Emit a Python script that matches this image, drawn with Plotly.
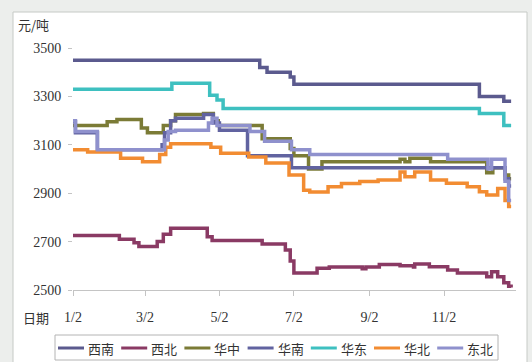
import plotly.graph_objects as go

# Regional price series (元/吨), stored as change points of a step line
dates_xinan = ["2019-01-02", "2019-06-04", "2019-06-10", "2019-06-29", "2019-07-02",
               "2019-12-01", "2019-12-21", "2019-12-27"]
vals_xinan = [3450, 3420, 3400, 3380, 3350, 3300, 3280, 3280]

dates_xibei = ["2019-01-02", "2019-02-09", "2019-02-21", "2019-02-25", "2019-03-12",
               "2019-03-17", "2019-03-23", "2019-04-22", "2019-04-26", "2019-06-06",
               "2019-06-25", "2019-06-29", "2019-07-02", "2019-07-21", "2019-07-31",
               "2019-08-27", "2019-08-30", "2019-09-10", "2019-09-27", "2019-10-08",
               "2019-10-09", "2019-10-21", "2019-11-05", "2019-11-13", "2019-12-07",
               "2019-12-11", "2019-12-16", "2019-12-21", "2019-12-25", "2019-12-27"]
vals_xibei = [2725, 2710, 2695, 2680, 2700, 2730, 2755, 2720, 2705, 2690,
              2665, 2620, 2570, 2590, 2595, 2588, 2595, 2605, 2600, 2595,
              2607, 2596, 2583, 2570, 2555, 2575, 2555, 2530, 2515, 2510]

dates_huazhong = ["2019-01-02", "2019-01-30", "2019-02-07", "2019-02-27", "2019-03-04",
                  "2019-03-17", "2019-03-23", "2019-03-27", "2019-04-19", "2019-04-27",
                  "2019-05-01", "2019-06-06", "2019-06-29", "2019-07-02", "2019-07-14",
                  "2019-07-25", "2019-09-27", "2019-10-01", "2019-10-05", "2019-10-22",
                  "2019-12-07", "2019-12-12", "2019-12-22", "2019-12-25", "2019-12-27"]
vals_huazhong = [3180, 3195, 3205, 3170, 3150, 3180, 3200, 3225, 3230, 3200,
                 3180, 3125, 3085, 3055, 3000, 3030, 3040, 3030, 3045, 3030,
                 2985, 3005, 2975, 2960, 2960]

dates_huanan = ["2019-01-02", "2019-01-04", "2019-01-22", "2019-03-16", "2019-03-18",
                "2019-03-23", "2019-03-27", "2019-04-19", "2019-04-27", "2019-05-02",
                "2019-05-25", "2019-06-30", "2019-12-22", "2019-12-25", "2019-12-27"]
vals_huanan = [3195, 3150, 3080, 3100, 3150, 3200, 3210, 3225, 3190, 3160,
               3055, 3005, 2960, 2930, 2930]

dates_huadong = ["2019-01-02", "2019-03-24", "2019-04-24", "2019-04-30", "2019-05-05",
                 "2019-12-01", "2019-12-21", "2019-12-27"]
vals_huadong = [3330, 3355, 3305, 3285, 3250, 3230, 3180, 3180]

dates_huabei = ["2019-01-02", "2019-01-14", "2019-02-10", "2019-02-28", "2019-03-14",
                "2019-03-19", "2019-03-23", "2019-04-25", "2019-05-03", "2019-05-26",
                "2019-06-09", "2019-06-28", "2019-07-10", "2019-07-15", "2019-07-30",
                "2019-08-10", "2019-08-25", "2019-09-09", "2019-09-27", "2019-10-01",
                "2019-10-09", "2019-10-22", "2019-11-04", "2019-11-21", "2019-12-01",
                "2019-12-07", "2019-12-16", "2019-12-22", "2019-12-25", "2019-12-27"]
vals_huabei = [3080, 3070, 3045, 3030, 3060, 3090, 3105, 3090, 3065, 3050,
               3025, 2975, 2912, 2905, 2927, 2940, 2948, 2955, 2988, 2968,
               2988, 2955, 2941, 2927, 2906, 2893, 2920, 2870, 2845, 2845]

dates_dongbei = ["2019-01-02", "2019-01-04", "2019-01-22", "2019-03-18", "2019-03-21",
                 "2019-03-27", "2019-04-23", "2019-04-26", "2019-04-30", "2019-05-27",
                 "2019-06-08", "2019-06-30", "2019-07-15", "2019-11-05", "2019-12-08",
                 "2019-12-11", "2019-12-22", "2019-12-25", "2019-12-27"]
vals_dongbei = [3200, 3155, 3080, 3120, 3155, 3160, 3190, 3210, 3180, 3155,
                3115, 3080, 3060, 3040, 3000, 3040, 2950, 2870, 2870]

region_names = ["西南", "西北", "华中", "华南", "华东", "华北", "东北"]
region_colors = ["#5b5a8e", "#8a3a64", "#7b7b36", "#6163a0", "#3ec0c0", "#f28c32", "#8f91cd"]
region_dates = [dates_xinan, dates_xibei, dates_huazhong, dates_huanan,
                dates_huadong, dates_huabei, dates_dongbei]
region_vals = [vals_xinan, vals_xibei, vals_huazhong, vals_huanan,
               vals_huadong, vals_huabei, vals_dongbei]

tick_dates = ["2019-01-02", "2019-03-02", "2019-05-02", "2019-07-02", "2019-09-02", "2019-11-02"]
tick_labels = ["1/2", "3/2", "5/2", "7/2", "9/2", "11/2"]
y_ticks = [2500, 2700, 2900, 3100, 3300, 3500]

W, H = 532, 362
ML, MR, MT, MB = 73, 16, 35, 72
PW, PH = W - ML - MR, H - MT - MB

def px_x(px):
    return (px - ML) / PW

def px_y(py):
    return (H - MB - py) / PH

SERIF = "Liberation Serif, Noto Sans CJK SC, serif"
CJK = "Noto Sans CJK SC, sans-serif"

fig = go.Figure()
for name, d, v, c in zip(region_names, region_dates, region_vals, region_colors):
    fig.add_trace(go.Scatter(
        x=d, y=v, mode="lines", name=name, showlegend=False,
        line=dict(color=c, width=3.5, shape="hv"),
    ))

shapes = [
    # white card with a thin grey edge
    dict(type="rect", xref="paper", yref="paper", layer="below",
         x0=px_x(13), x1=px_x(527), y0=px_y(375), y1=px_y(12),
         fillcolor="white", line=dict(color="#c6cac6", width=1)),
    # legend box
    dict(type="rect", xref="paper", yref="paper",
         x0=px_x(55), x1=px_x(498), y0=px_y(360), y1=px_y(335),
         fillcolor="white", line=dict(color="#b4b4b4", width=1)),
]
annotations = [
    dict(text="元/吨", xref="paper", yref="paper", x=px_x(16), y=px_y(25),
         xanchor="left", yanchor="middle", showarrow=False,
         font=dict(family=CJK, size=13, color="#333")),
    dict(text="日期", xref="paper", yref="paper", x=px_x(21), y=px_y(317),
         xanchor="left", yanchor="middle", showarrow=False,
         font=dict(family=CJK, size=13, color="#333")),
]
for i, (name, c) in enumerate(zip(region_names, region_colors)):
    x0 = 58 + i * 63.2
    shapes.append(dict(type="line", xref="paper", yref="paper",
                       x0=px_x(x0), x1=px_x(x0 + 26), y0=px_y(348), y1=px_y(348),
                       line=dict(color=c, width=3)))
    annotations.append(dict(text=name, xref="paper", yref="paper",
                            x=px_x(x0 + 28), y=px_y(348), xanchor="left", yanchor="middle",
                            showarrow=False, font=dict(family=CJK, size=13, color="#333")))

fig.update_layout(
    width=W, height=H,
    margin=dict(l=ML, r=MR, t=MT, b=MB, pad=0),
    paper_bgcolor="#eceeec", plot_bgcolor="white",
    shapes=shapes, annotations=annotations,
    xaxis=dict(type="date", range=["2019-01-02", "2019-12-31"],
               tickmode="array", tickvals=tick_dates, ticktext=tick_labels,
               showgrid=False, zeroline=False, showline=True, linecolor="#c4c4c4", linewidth=1,
               ticks="outside", ticklen=5, tickcolor="#c4c4c4", ticklabelstandoff=9,
               tickfont=dict(family=SERIF, size=14, color="#333")),
    yaxis=dict(range=[2500, 3554], tickmode="array", tickvals=y_ticks,
               showgrid=False, zeroline=False, showline=False,
               ticks="outside", ticklen=4, tickcolor="#c4c4c4", ticklabelstandoff=4,
               tickfont=dict(family=SERIF, size=14, color="#333")),
)

fig.write_html("out.html")
